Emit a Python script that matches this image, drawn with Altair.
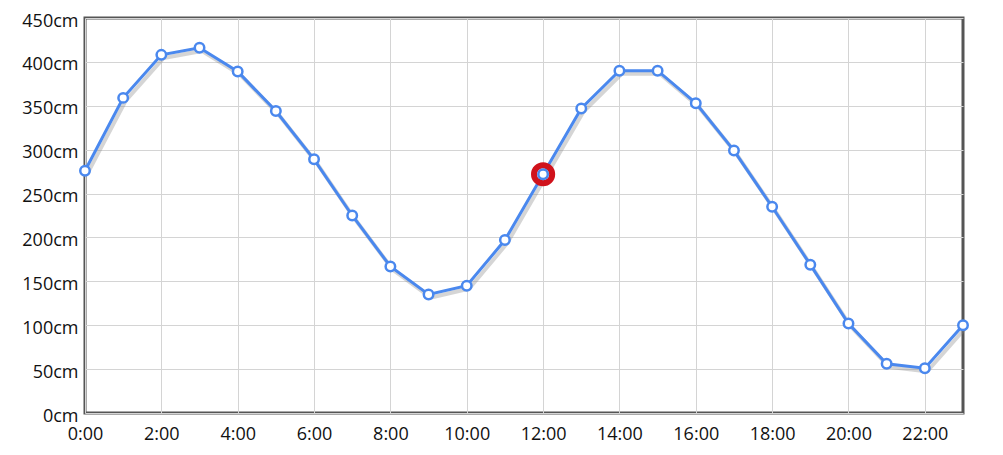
import altair as alt
import pandas as pd

hours = list(range(24))
levels = [276, 359, 408, 416, 389, 344, 289, 225, 167, 135, 145, 197,
          272, 347, 390, 390, 353, 299, 235, 169, 102, 56, 51, 100]
highlight_hour = 12

df = pd.DataFrame({"hour": hours, "level": levels})
hl = df[df["hour"] == highlight_hour]

FONT = "Open Sans"
BLUE = "#4a88ee"

xscale = alt.Scale(domain=[0, 23], nice=False, zero=False)
yscale = alt.Scale(domain=[0, 450], nice=False)
xaxis = alt.Axis(values=list(range(0, 24, 2)), labelExpr="datum.value + ':00'",
                 title=None, ticks=False, domain=False, grid=True,
                 gridColor="#d4d4d4", labelFontSize=18, labelFont=FONT,
                 labelColor="#111", labelPadding=12, labelFlush=False)
yaxis = alt.Axis(values=list(range(0, 451, 50)), labelExpr="datum.value + 'cm'",
                 title=None, ticks=False, domain=False, grid=True,
                 gridColor="#d4d4d4", labelFontSize=18, labelFont=FONT,
                 labelColor="#111", labelPadding=7, labelOffset=3)


def enc(xf, yf):
    return dict(x=alt.X(xf, scale=xscale, axis=xaxis, title=None),
                y=alt.Y(yf, scale=yscale, axis=yaxis, title=None))


base = alt.Chart(df)

shadow = base.transform_calculate(
    sx="datum.hour + 0.06", sy="datum.level - 3.5"
).mark_line(color="#888", opacity=0.35, strokeWidth=4).encode(**enc("sx:Q", "sy:Q"))

line = base.mark_line(color=BLUE, strokeWidth=3).encode(**enc("hour:Q", "level:Q"))

ring = alt.Chart(hl).mark_point(shape="circle", filled=False, color="#d0121b",
                                 strokeWidth=6, size=330, opacity=1).encode(**enc("hour:Q", "level:Q"))

points = base.mark_point(shape="circle", filled=True, fill="white", stroke=BLUE,
                         strokeWidth=2.5, size=90, opacity=1).encode(**enc("hour:Q", "level:Q"))

chart = alt.layer(shadow, line, ring, points).properties(
    width=878, height=395,
    autosize=alt.AutoSizeParams(type="none"),
    padding={"left": 77, "top": 10, "right": 20, "bottom": 30},
).configure_view(stroke="#555", strokeWidth=3)

chart.save("out.html", embed_options={"renderer": "svg", "actions": False})
